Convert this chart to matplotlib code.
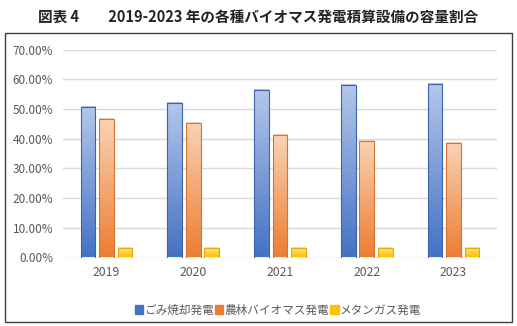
import numpy as np
import matplotlib.pyplot as plt
from matplotlib.colors import LinearSegmentedColormap
from matplotlib.patches import Rectangle, Patch

plt.rcParams['font.family'] = ['Noto Sans CJK JP', 'DejaVu Sans']

years = ['2019', '2020', '2021', '2022', '2023']
waste = [50.6, 52.2, 56.4, 58.0, 58.6]      # ごみ焼却発電 (%)
agri = [46.5, 45.2, 41.1, 39.4, 38.5]       # 農林バイオマス発電 (%)
methane = [3.1, 3.1, 3.1, 3.1, 3.3]         # メタンガス発電 (%)
labels = ['ごみ焼却発電', '農林バイオマス発電', 'メタンガス発電']
yticks = [0, 10, 20, 30, 40, 50, 60, 70]

# (top colour, bottom colour, edge colour)
styles = [('#b4c7ea', '#4472c4', '#3d63a8'),
          ('#fad3b6', '#ed7d31', '#d9732e'),
          ('#ffe48a', '#ffc000', '#e0aa10')]
solid = ['#4472c4', '#ed7d31', '#ffc000']

fig = plt.figure(figsize=(5.17, 3.26), dpi=100)
ax = fig.add_axes([63/517, 1 - 257.5/326, 434/517, (257.5 - 49.7)/326])

x = np.arange(len(years))
width = 0.17
step = 0.213
grad = np.linspace(1, 0, 256).reshape(-1, 1)

for i, series in enumerate([waste, agri, methane]):
    top, bottom, edge = styles[i]
    cmap = LinearSegmentedColormap.from_list('g%d' % i, [bottom, top])
    for xi, v in zip(x, series):
        x0 = xi + (i - 1) * step - width / 2
        ax.imshow(grad, cmap=cmap, extent=[x0, x0 + width, 0, v],
                  aspect='auto', zorder=2, interpolation='bicubic')
        ax.add_patch(Rectangle((x0, 0), width, v, fill=False,
                               edgecolor=edge, linewidth=0.8, zorder=3))

ax.set_xlim(-0.5, len(years) - 0.5)
ax.set_ylim(0, 70)
ax.set_yticks(yticks)
ax.set_yticklabels(['%.2f%%' % t for t in yticks])
ax.set_xticks(x)
ax.set_xticklabels(years)
ax.grid(axis='y', color='#d9d9d9', linewidth=1, zorder=0)
ax.set_axisbelow(True)
for s in ax.spines.values():
    s.set_visible(False)
ax.tick_params(length=0, labelsize=8.5, colors='#595959')
ax.tick_params(axis='y', pad=7)
ax.tick_params(axis='x', labelsize=8.8, pad=6)

handles = [Patch(facecolor=c, edgecolor=c) for c in solid]
fig.legend(handles, labels, loc='center', bbox_to_anchor=(278/517, 1 - 310/326),
           ncol=3, frameon=False, fontsize=8.4, handlelength=0.7, handleheight=0.7,
           handletextpad=0.1, columnspacing=0.1, labelcolor='#595959')

# outer frame around the chart
fig.add_artist(Rectangle((5/517, 1 - 321.7/326), 507/517, (321.7 - 33)/326,
                         transform=fig.transFigure, fill=False,
                         edgecolor='#404040', linewidth=1))

fig.text(258/517, 1 - 17/326, '図表 4　　2019-2023 年の各種バイオマス発電積算設備の容量割合',
         ha='center', va='center', fontsize=10.5, fontweight='bold', color='#222222')

fig.savefig('out.png', dpi=100)
